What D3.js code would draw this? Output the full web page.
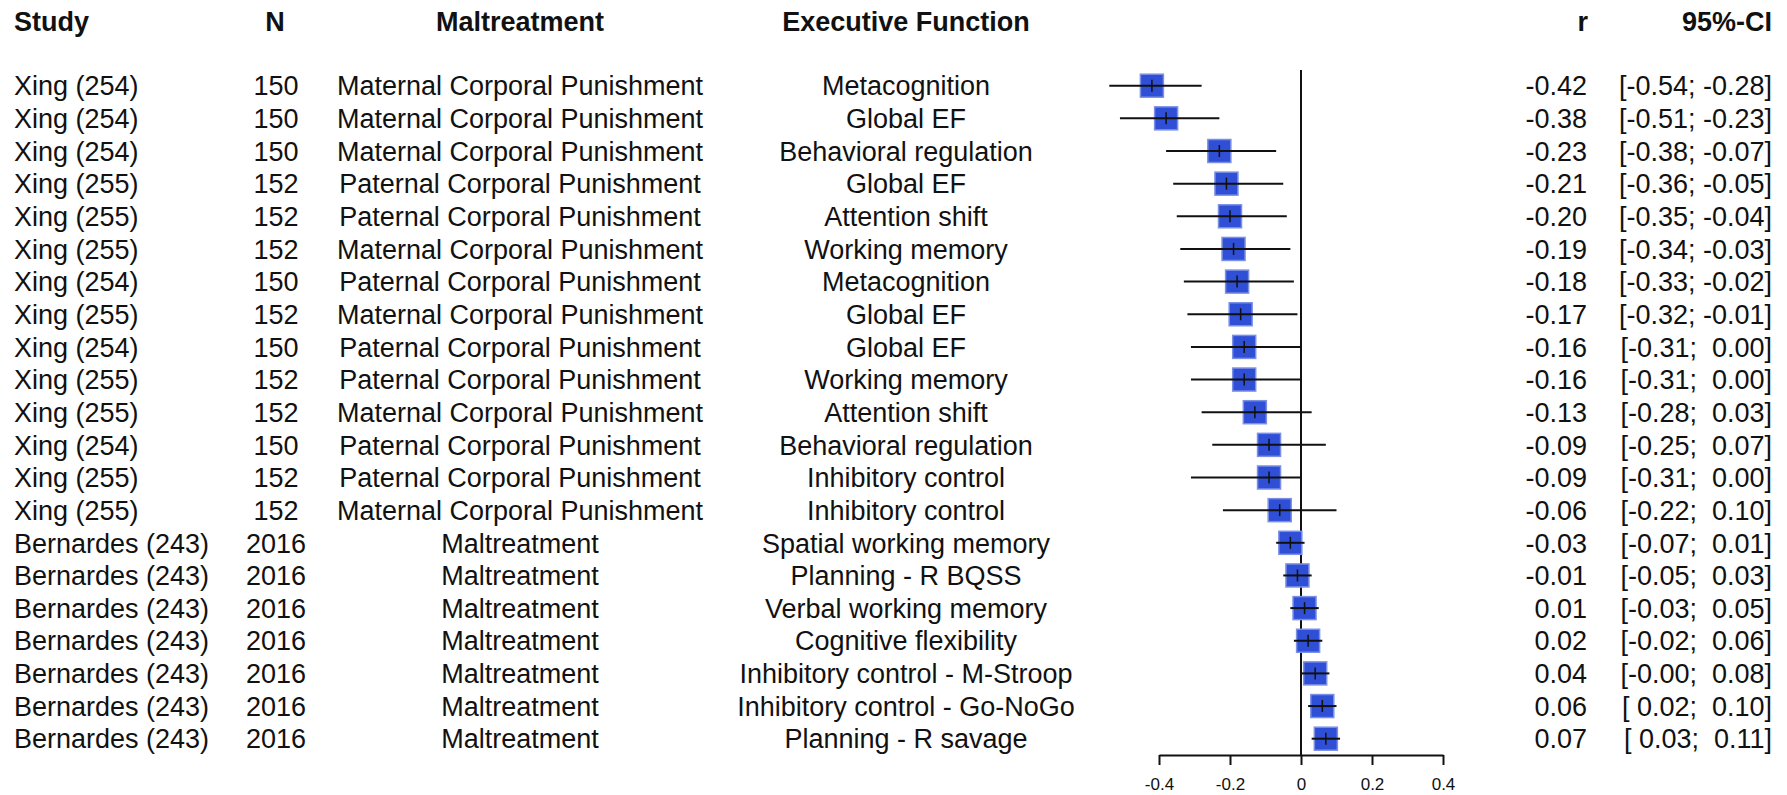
<!DOCTYPE html>
<html>
<head>
<meta charset="utf-8">
<script src="https://cdn.jsdelivr.net/npm/d3@7"></script>
<style>
  body { margin: 0; background: #fff; }
  text { font-family: "Liberation Sans", Arial, sans-serif; fill: #111; }
</style>
</head>
<body>
<div id="chart"></div>
<script>
var studies = ["Xing (254)", "Xing (254)", "Xing (254)", "Xing (255)", "Xing (255)", "Xing (255)", "Xing (254)",
    "Xing (255)", "Xing (254)", "Xing (255)", "Xing (255)", "Xing (254)", "Xing (255)", "Xing (255)",
    "Bernardes (243)", "Bernardes (243)", "Bernardes (243)", "Bernardes (243)", "Bernardes (243)",
    "Bernardes (243)", "Bernardes (243)"];
var ns = [150, 150, 150, 152, 152, 152, 150, 152, 150, 152, 152, 150, 152, 152,
    2016, 2016, 2016, 2016, 2016, 2016, 2016];
var maltreatments = ["Maternal Corporal Punishment", "Maternal Corporal Punishment", "Maternal Corporal Punishment",
    "Paternal Corporal Punishment", "Paternal Corporal Punishment", "Maternal Corporal Punishment",
    "Paternal Corporal Punishment", "Maternal Corporal Punishment", "Paternal Corporal Punishment",
    "Paternal Corporal Punishment", "Maternal Corporal Punishment", "Paternal Corporal Punishment",
    "Paternal Corporal Punishment", "Maternal Corporal Punishment",
    "Maltreatment", "Maltreatment", "Maltreatment", "Maltreatment", "Maltreatment", "Maltreatment", "Maltreatment"];
var functions = ["Metacognition", "Global EF", "Behavioral regulation", "Global EF", "Attention shift",
    "Working memory", "Metacognition", "Global EF", "Global EF", "Working memory", "Attention shift",
    "Behavioral regulation", "Inhibitory control", "Inhibitory control", "Spatial working memory",
    "Planning - R BQSS", "Verbal working memory", "Cognitive flexibility", "Inhibitory control - M-Stroop",
    "Inhibitory control - Go-NoGo", "Planning - R savage"];
var rs = [-0.42, -0.38, -0.23, -0.21, -0.20, -0.19, -0.18, -0.17, -0.16, -0.16, -0.13, -0.09, -0.09, -0.06,
    -0.03, -0.01, 0.01, 0.02, 0.04, 0.06, 0.07];
var lowers = [-0.54, -0.51, -0.38, -0.36, -0.35, -0.34, -0.33, -0.32, -0.31, -0.31, -0.28, -0.25, -0.31, -0.22,
    -0.07, -0.05, -0.03, -0.02, -0, 0.02, 0.03];
var uppers = [-0.28, -0.23, -0.07, -0.05, -0.04, -0.03, -0.02, -0.01, 0.00, 0.00, 0.03, 0.07, 0.00, 0.10,
    0.01, 0.03, 0.05, 0.06, 0.08, 0.10, 0.11];
var ticks = [-0.4, -0.2, 0, 0.2, 0.4];

var width = 1787, height = 795;
var rows = d3.range(rs.length);

var svg = d3.select("#chart").append("svg")
    .attr("width", width)
    .attr("height", height);

var x = d3.scaleLinear().domain([-0.4, 0.4]).range([1159, 1443]);
var y = d3.scalePoint().domain(rows).range([85.7, 738.7]);

// pad positive numbers with a space like R's meta output
function fmt(v) {
    return (v < 0 || Object.is(v, -0) ? "-" : " ") + Math.abs(v).toFixed(2);
}

// headers
var headers = [
    {t: "Study", x: 14, a: "start"},
    {t: "N", x: 275, a: "middle"},
    {t: "Maltreatment", x: 520, a: "middle"},
    {t: "Executive Function", x: 906, a: "middle"},
    {t: "r", x: 1588, a: "end"},
    {t: "95%-CI", x: 1772, a: "end"}
];
svg.append("g").selectAll("text")
    .data(headers)
  .enter().append("text")
    .attr("x", function(d) { return d.x; })
    .attr("y", 31)
    .attr("text-anchor", function(d) { return d.a; })
    .style("font-size", "27px")
    .style("font-weight", "bold")
    .text(function(d) { return d.t; });

// table columns
var cols = [
    {x: 14, a: "start", f: function(i) { return studies[i]; }},
    {x: 276, a: "middle", f: function(i) { return ns[i]; }},
    {x: 520, a: "middle", f: function(i) { return maltreatments[i]; }},
    {x: 906, a: "middle", f: function(i) { return functions[i]; }},
    {x: 1587, a: "end", f: function(i) { return rs[i].toFixed(2); }},
    {x: 1772, a: "end", f: function(i) { return "[" + fmt(lowers[i]) + "; " + fmt(uppers[i]) + "]"; }}
];
cols.forEach(function(c) {
    svg.append("g").selectAll("text")
        .data(rows)
      .enter().append("text")
        .attr("x", c.x)
        .attr("y", function(i) { return y(i); })
        .attr("dy", "0.36em")
        .attr("text-anchor", c.a)
        .style("font-size", "27px")
        .style("white-space", "pre")
        .text(c.f);
});

// zero line
svg.append("line")
    .attr("x1", x(0)).attr("x2", x(0))
    .attr("y1", 70).attr("y2", 755)
    .attr("stroke", "#111")
    .attr("stroke-width", 2);

// squares
var sq = 23;
svg.append("g").selectAll("rect")
    .data(rows)
  .enter().append("rect")
    .attr("x", function(i) { return x(rs[i]) - sq / 2; })
    .attr("y", function(i) { return y(i) - sq / 2; })
    .attr("width", sq)
    .attr("height", sq)
    .attr("fill", "#2f4fd6")
    .attr("stroke", "#7b90e4")
    .attr("stroke-width", 1.5);

// CI lines
svg.append("g").selectAll("line")
    .data(rows)
  .enter().append("line")
    .attr("x1", function(i) { return x(lowers[i]); })
    .attr("x2", function(i) { return x(uppers[i]); })
    .attr("y1", function(i) { return y(i); })
    .attr("y2", function(i) { return y(i); })
    .attr("stroke", "#111")
    .attr("stroke-width", 2);

// estimate ticks
svg.append("g").selectAll("line")
    .data(rows)
  .enter().append("line")
    .attr("x1", function(i) { return x(rs[i]); })
    .attr("x2", function(i) { return x(rs[i]); })
    .attr("y1", function(i) { return y(i) - 6; })
    .attr("y2", function(i) { return y(i) + 6; })
    .attr("stroke", "#111")
    .attr("stroke-width", 1.5);

// x axis
var axis = svg.append("g")
    .attr("transform", "translate(0,755)")
    .call(d3.axisBottom(x)
        .tickValues(ticks)
        .tickSize(10)
        .tickSizeOuter(0)
        .tickPadding(13)
        .tickFormat(function(d) { return String(d); }));
axis.select(".domain").attr("stroke", "#111").attr("stroke-width", 2);
axis.selectAll(".tick line").attr("stroke", "#111").attr("stroke-width", 2);
axis.selectAll(".tick text")
    .style("font-size", "17px")
    .style("font-family", "Liberation Sans, Arial, sans-serif")
    .attr("fill", "#111");
</script>
</body>
</html>
